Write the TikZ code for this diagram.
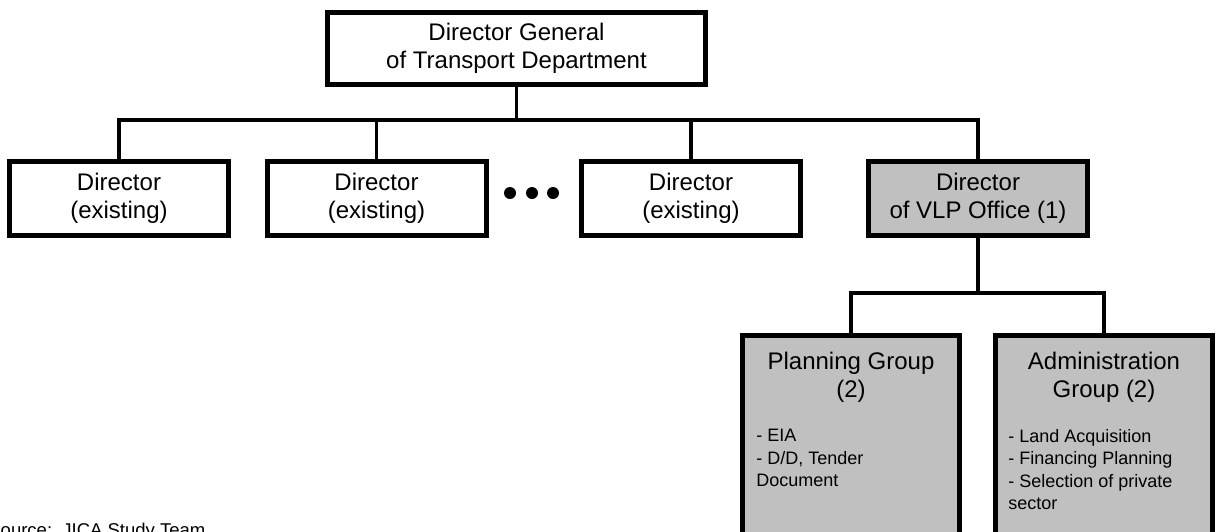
\documentclass[tikz,border=0pt]{standalone}
\usepackage{fontspec}
\setmainfont{Liberation Sans}
\usetikzlibrary{positioning}
\definecolor{boxgray}{RGB}{192,192,192}
\tikzset{
topblock/.style = {draw, fill=white, rectangle, line width=2.5pt, align=center, inner sep=0pt, font=\fontsize{12}{14}\selectfont, minimum width=189pt, minimum height=36pt},
dirblock/.style = {draw, fill=white, rectangle, line width=2.5pt, align=center, inner sep=0pt, font=\fontsize{12}{14}\selectfont, minimum width=109.5pt, minimum height=37pt},
newblock/.style = {dirblock, fill=boxgray},
grpblock/.style = {draw, fill=boxgray, rectangle, line width=2.5pt, inner sep=0pt, minimum width=108.5pt, minimum height=130pt},
grptitle/.style = {align=center, inner sep=0pt, font=\fontsize{12}{14}\selectfont},
grplist/.style = {align=left, inner sep=0pt, font=\fontsize{9}{11.25}\selectfont},
srctext/.style = {inner sep=0pt, font=\fontsize{9.25}{11}\selectfont},
dotmark/.style = {circle, fill=black, inner sep=0pt, minimum size=6pt},
tmp/.style = {coordinate},
conn/.style = {line width=1.7pt}
}
\begin{document}
\begin{tikzpicture}[x=0.5pt, y=-0.5pt]
\useasboundingbox (0,0) rectangle (1216,531);
% head of department
\node[topblock] (dg) at (516.5,48) {Director General\\of Transport Department};
% directors
\node[dirblock] (dir1) at (119,198) {Director\\(existing)};
\node[dirblock] (dir2) at (376.5,198) {Director\\(existing)};
\foreach \i/\x in {1/510,2/532,3/553}
	\node[dotmark] (dot\i) at (\x,193) {};
\node[dirblock] (dir3) at (691,198) {Director\\(existing)};
\node[newblock] (vlp) at (978,198) {Director\\of VLP Office (1)};
\node[tmp] (bus) at (516.5,120) {};
\node[tmp] (subbus) at (978,293) {};
% groups
\node[grpblock, anchor=north] (plan) at (851,333) {};
\node[grpblock, anchor=north] (adm) at (1104,333) {};
\node[grptitle, below=9.5pt of plan.north] (plantitle) {Planning Group\\(2)};
\node[grptitle, below=9.5pt of adm.north] (admtitle) {Administration\\Group (2)};
\node[grplist, anchor=north west] (planlist) at (756,429) {- EIA\\- D/D, Tender\\Document};
\node[grplist, anchor=north west] (admlist) at (1008,429) {- Land Acquisition\\- Financing Planning\\- Selection of private\\sector};
\node[srctext, anchor=base west] (source) at (-12,536) {Source:\ \ JICA Study Team};
% connectors
\draw[conn] (dg) -- (bus);
\draw[conn] (dir1.north) |- (bus) -| (vlp.north);
\draw[conn] (dir2.north) -- (dir2.north |- bus);
\draw[conn] (dir3.north) -- (dir3.north |- bus);
\draw[conn] (vlp) -- (subbus);
\draw[conn] (plan.north) |- (subbus) -| (adm.north);
\end{tikzpicture}
\end{document}
